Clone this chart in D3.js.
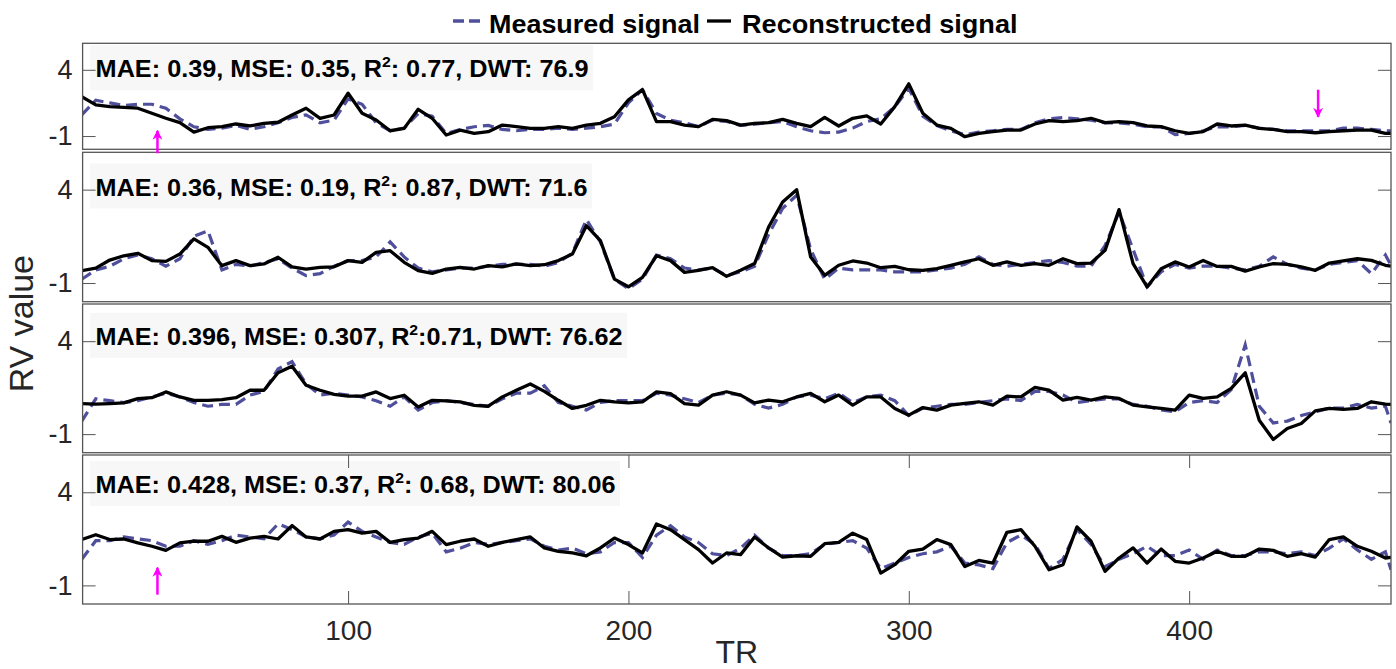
<!DOCTYPE html>
<html>
<head>
<meta charset="utf-8">
<script src="https://cdn.jsdelivr.net/npm/d3@7"></script>
<style>
  body { margin: 0; background: #fff; }
  text { font-family: "Liberation Sans", Arial, Helvetica, sans-serif; }
</style>
</head>
<body>
<svg id="chart" width="1396" height="669"></svg>
<script>
// sample positions (TR)
const tr = [5,10,15,20,25,30,35,40,45,50, 55,60,65,70,75,80,85,90,95,100,
  105,110,115,120,125,130,135,140,145,150, 155,160,165,170,175,180,185,190,195,200,
  205,210,215,220,225,230,235,240,245,250, 255,260,265,270,275,280,285,290,295,300,
  305,310,315,320,325,330,335,340,345,350, 355,360,365,370,375,380,385,390,395,400,
  405,410,415,420,425,430,435,440,445,450, 455,460,465,470,472]

// panel 1
const measured1 = [0.6,1.7,1.5,1.3,1.4,1.4,1.1,0.3,-0.3,-0.5,
  -0.4,-0.2,-0.5,-0.3,0.0,0.4,0.6,0.0,0.2,1.8,
  1.4,0.0,-0.6,-0.4,0.7,0.5,-0.8,-0.5,-0.3,-0.2,
  -0.5,-0.6,-0.5,-0.5,-0.4,-0.5,-0.4,-0.3,-0.1,1.5,
  2.5,0.7,0.2,0.0,-0.3,0.2,0.1,-0.2,-0.1,0.0,
  0.1,-0.3,-0.6,-0.75,-0.7,-0.4,0.1,0.3,1.2,2.6,
  0.5,-0.2,-0.6,-0.9,-0.7,-0.6,-0.5,-0.5,0.0,0.3,
  0.4,0.3,0.2,0.0,0.0,-0.1,-0.3,-0.3,-0.9,-0.8,
  -0.6,-0.3,-0.3,-0.2,-0.4,-0.5,-0.6,-0.6,-0.6,-0.6,
  -0.4,-0.4,-0.5,-0.6,-0.6]
const recon1 = [1.98,1.35,1.22,1.17,1.1,0.72,0.34,0.01,-0.7,-0.37,
  -0.29,-0.09,-0.24,-0.04,0.04,0.59,1.1,0.34,0.59,2.23,
  0.72,0.21,-0.6,-0.42,1.02,0.34,-0.92,-0.55,-0.8,-0.67,
  -0.17,-0.29,-0.42,-0.42,-0.29,-0.42,-0.17,-0.04,0.46,1.73,
  2.5,0.09,0.09,-0.17,-0.29,0.26,0.16,-0.17,-0.04,0.01,
  0.26,-0.04,-0.29,0.41,-0.24,0.34,0.52,-0.09,1.22,2.94,
  0.72,-0.17,-0.42,-1.05,-0.8,-0.67,-0.55,-0.55,-0.09,0.16,
  0.09,0.16,0.34,0.01,0.09,0.01,-0.24,-0.29,-0.6,-0.8,
  -0.67,-0.09,-0.24,-0.17,-0.42,-0.5,-0.67,-0.67,-0.75,-0.67,
  -0.6,-0.55,-0.55,-0.8,-0.8]

// panel 2
const measured2 = [-0.8,-0.3,-0.1,0.3,0.5,0.3,-0.1,0.3,1.5,1.8,
  -0.3,0.0,-0.1,0.1,0.3,-0.2,-0.6,-0.5,-0.1,0.2,
  0.2,0.4,1.2,0.4,-0.2,-0.4,-0.3,-0.2,-0.2,-0.1,
  0.0,0.0,0.0,-0.1,0.1,0.6,2.4,1.2,-0.8,-1.3,
  -0.8,0.5,0.3,-0.2,-0.3,-0.2,-0.6,-0.4,-0.1,1.6,
  3.0,3.7,0.8,-0.8,-0.2,-0.3,-0.3,-0.3,-0.4,-0.4,
  -0.4,-0.3,-0.2,0.0,0.4,0.0,-0.1,0.0,0.1,0.2,
  0.1,-0.1,-0.1,1.0,2.8,0.8,-1.2,-0.4,0.0,-0.2,
  -0.1,-0.1,-0.2,-0.3,-0.1,0.4,0.0,-0.2,-0.3,0.0,
  0.1,0.2,-0.5,0.5,-0.05]
const recon2 = [-0.34,-0.2,0.23,0.46,0.59,0.2,0.16,0.55,1.36,0.91,
  -0.07,0.2,-0.07,0.02,0.38,-0.13,-0.25,-0.16,-0.13,0.2,
  0.11,0.64,0.73,0.11,-0.34,-0.48,-0.25,-0.16,-0.25,-0.07,
  -0.13,0.02,-0.07,-0.02,0.2,0.55,2.07,1.27,-0.79,-1.2,
  -0.7,0.46,0.2,-0.43,-0.32,-0.18,-0.64,-0.32,0.04,2.0,
  3.34,4.0,0.39,-0.59,-0.05,0.18,0.07,-0.18,-0.11,-0.29,
  -0.32,-0.23,-0.05,0.13,0.3,-0.05,0.13,-0.05,0.04,-0.05,
  0.3,0.04,0.07,0.75,2.93,0.04,-1.21,-0.23,0.13,-0.14,
  0.21,-0.11,-0.11,-0.36,-0.14,0.04,0.0,-0.14,-0.32,0.07,
  0.18,0.3,0.21,-0.05,-0.1]

// panel 3
const measured3 = [-0.3,0.9,0.8,0.7,0.8,1.0,1.2,1.0,0.7,0.5,
  0.6,0.6,1.1,1.3,2.5,2.9,1.7,1.1,1.2,1.1,
  1.0,0.8,0.5,1.0,0.3,0.7,0.8,0.7,0.6,0.5,
  0.9,1.2,1.2,1.6,0.7,0.5,0.3,0.7,0.8,0.8,
  0.8,1.2,1.1,0.9,0.7,1.1,1.2,1.1,0.6,0.4,
  0.6,1.0,1.1,0.9,1.2,0.7,1.0,1.1,0.8,0.0,
  0.4,0.5,0.6,0.6,0.7,0.8,0.9,0.8,1.3,1.3,
  1.1,0.7,0.8,0.9,0.9,0.6,0.5,0.3,0.2,0.7,
  0.8,0.7,1.4,3.8,0.5,-0.4,-0.3,0.0,0.2,0.4,
  0.4,0.6,0.4,0.5,-0.4]
const recon3 = [0.64,0.61,0.64,0.68,0.91,0.96,1.27,1.0,0.82,0.82,
  0.86,0.96,1.36,1.36,2.3,2.65,1.63,1.36,1.14,1.04,
  1.04,1.27,0.91,1.09,0.46,0.82,0.79,0.73,0.55,0.5,
  1.0,1.36,1.7,1.3,0.82,0.38,0.55,0.82,0.73,0.68,
  0.73,1.27,1.18,0.64,0.56,1.1,1.28,1.1,0.68,0.83,
  0.74,1.0,1.19,0.74,1.1,0.56,1.0,1.0,0.38,0.02,
  0.43,0.29,0.56,0.65,0.74,0.56,1.04,1.0,1.51,1.37,
  0.83,0.97,0.83,1.0,0.92,0.56,0.47,0.38,0.29,1.1,
  0.92,1.0,1.46,2.3,-0.25,-1.29,-0.7,-0.43,0.25,0.38,
  0.33,0.38,0.74,0.61,0.6]

// panel 4
const measured4 = [0.4,1.4,1.4,1.6,1.5,1.4,1.1,1.1,1.4,1.2,
  1.4,1.7,1.6,1.5,2.3,2.0,1.6,1.5,1.7,2.4,
  1.9,1.6,1.3,1.2,1.6,1.8,0.8,1.0,1.3,1.2,
  1.3,1.4,1.5,1.1,0.9,1.0,0.7,0.8,1.3,1.3,
  0.5,1.7,2.2,1.6,1.3,0.7,0.6,1.0,1.7,1.0,
  0.6,0.6,0.7,1.2,1.3,1.4,1.0,-0.1,0.2,0.5,
  0.7,0.8,1.1,0.2,0.1,-0.1,1.3,1.7,1.2,-0.1,
  0.4,2.0,1.2,0.0,0.4,0.7,1.1,0.6,0.6,0.9,
  0.4,0.9,0.6,0.6,0.8,0.8,0.7,0.8,0.6,1.0,
  1.5,0.9,0.4,0.8,-0.16]
const recon4 = [1.46,1.72,1.46,1.49,1.28,1.1,0.88,1.28,1.37,1.37,
  1.63,1.31,1.54,1.63,1.49,2.21,1.6,1.49,1.9,1.99,
  1.81,1.9,1.31,1.46,1.54,1.9,1.19,1.37,1.49,1.1,
  1.31,1.46,1.6,1.01,0.83,0.74,0.59,1.01,1.54,1.19,
  0.74,2.3,1.99,1.46,0.92,0.2,0.74,0.65,1.6,1.01,
  0.52,0.59,0.56,1.24,1.31,1.8,1.46,-0.34,0.11,0.83,
  0.95,1.46,1.19,0.01,0.34,0.2,1.85,1.99,1.1,-0.16,
  0.11,2.14,1.37,-0.25,0.47,1.01,0.2,0.95,0.29,0.2,
  0.47,0.83,0.56,0.56,0.95,0.88,0.56,0.7,0.52,1.46,
  1.6,1.1,0.83,0.47,0.5]

// metrics shown in each panel
const mae = ['0.39', '0.36', '0.396', '0.428']
const mse = ['0.35', '0.19', '0.307', '0.37']
const r2 = ['0.77', '0.87', '0.71', '0.68']
const r2sep = [': ', ': ', ':', ': ']
const dwt = ['76.9', '71.6', '76.62', '80.06']

const xTicks = [100, 200, 300, 400]
const yTicks = [4, -1]
const legendLabels = ['Measured signal', 'Reconstructed signal']

// magenta arrows: panel index, TR, from value, to value (head at "to")
const arrows = [
  {panel: 0, tr: 32, from: -2.3, to: -0.6},
  {panel: 0, tr: 446, from: 2.5, to: 0.45},
  {panel: 3, tr: 32, from: -1.5, to: -0.05}
]

// ---- layout ----
const measuredColor = '#4f4f9c'
const axisColor = '#262626'
const left = 82.6, right = 1391
const panelY = [[43.3, 149.3], [152.3, 301.7], [304, 452.7], [455, 604]]
const boxBaseline = [34, 43.2, 40.8, 38]
const boxTextLen = [493, 492, 527, 520]

const svg = d3.select('#chart')

const x = d3.scaleLinear().domain([5.3, 472]).range([left, right])

const panels = [
  {m: measured1, r: recon1},
  {m: measured2, r: recon2},
  {m: measured3, r: recon3},
  {m: measured4, r: recon4}
]

const defs = svg.append('defs')
defs.append('marker')
  .attr('id', 'head')
  .attr('viewBox', '0 0 10 10')
  .attr('refX', 9).attr('refY', 5)
  .attr('markerWidth', 4).attr('markerHeight', 4)
  .attr('markerUnits', 'strokeWidth')
  .attr('orient', 'auto')
  .append('path')
  .attr('d', 'M0,0 L10,5 L0,10 L3,5 Z')
  .attr('fill', '#ff00ff')

panels.forEach(function(p, i) {
  const top = panelY[i][0], bottom = panelY[i][1]
  const y = d3.scaleLinear().domain([-2, 6]).range([bottom, top])
  p.y = y

  defs.append('clipPath').attr('id', 'clip' + i)
    .append('rect')
    .attr('x', left).attr('y', top)
    .attr('width', right - left).attr('height', bottom - top)

  const g = svg.append('g')

  g.append('rect')
    .attr('x', left).attr('y', top)
    .attr('width', right - left).attr('height', bottom - top)
    .attr('fill', '#fff')

  // metric box
  const base = top + boxBaseline[i]
  g.append('rect')
    .attr('x', left + 7.5).attr('y', base - 32)
    .attr('width', boxTextLen[i] + 10).attr('height', 45)
    .attr('fill', '#f7f7f7')
  const label = g.append('text')
    .attr('x', left + 13)
    .attr('y', base)
    .attr('font-size', 24)
    .attr('font-weight', 'bold')
    .attr('fill', '#000')
    .attr('textLength', boxTextLen[i])
    .attr('lengthAdjust', 'spacingAndGlyphs')
  label.append('tspan').text('MAE: ' + mae[i] + ', MSE: ' + mse[i] + ', R')
  label.append('tspan').attr('font-size', 15).attr('dy', -10).text('2')
  label.append('tspan').attr('dy', 10).text(r2sep[i] + r2[i] + ', DWT: ' + dwt[i])

  // lines
  const line = d3.line()
    .x(function(d, k) { return x(tr[k]) })
    .y(function(d) { return y(d) })

  const lines = g.append('g').attr('clip-path', 'url(#clip' + i + ')')
  lines.append('path')
    .datum(p.m)
    .attr('d', line)
    .attr('fill', 'none')
    .attr('stroke', measuredColor)
    .attr('stroke-width', 3.2)
    .attr('stroke-dasharray', '11,6')
  lines.append('path')
    .datum(p.r)
    .attr('d', line)
    .attr('fill', 'none')
    .attr('stroke', '#000')
    .attr('stroke-width', 3.3)
    .attr('stroke-linejoin', 'round')

  // y axes (inward ticks both sides)
  const ya = g.append('g')
    .attr('transform', 'translate(' + left + ',0)')
    .call(d3.axisLeft(y).tickValues(yTicks).tickSize(-13).tickPadding(10)
      .tickFormat(function(d) { return String(d) }))
  ya.select('.domain').remove()
  ya.selectAll('text').attr('font-size', 27).attr('fill', axisColor).attr('font-family', null)
  ya.selectAll('line').attr('stroke', '#555')

  const yr = g.append('g')
    .attr('transform', 'translate(' + right + ',0)')
    .call(d3.axisRight(y).tickValues(yTicks).tickSize(-13).tickFormat(''))
  yr.select('.domain').remove()
  yr.selectAll('line').attr('stroke', '#555')

  if (i === panels.length - 1) {
    const xb = g.append('g')
      .attr('transform', 'translate(0,' + bottom + ')')
      .call(d3.axisBottom(x).tickValues(xTicks).tickSize(-13).tickPadding(16))
    xb.select('.domain').remove()
    xb.selectAll('text').attr('font-size', 28).attr('fill', axisColor).attr('font-family', null)
    xb.selectAll('line').attr('stroke', '#555')

    const xt = g.append('g')
      .attr('transform', 'translate(0,' + top + ')')
      .call(d3.axisTop(x).tickValues(xTicks).tickSize(-13).tickFormat(''))
    xt.select('.domain').remove()
    xt.selectAll('line').attr('stroke', '#555')
  }

  // frame
  g.append('rect')
    .attr('x', left).attr('y', top)
    .attr('width', right - left).attr('height', bottom - top)
    .attr('fill', 'none')
    .attr('stroke', '#555')
    .attr('stroke-width', 1.3)
})

// arrows
svg.append('g').selectAll('line')
  .data(arrows)
  .enter()
  .append('line')
  .attr('x1', function(d) { return x(d.tr) })
  .attr('x2', function(d) { return x(d.tr) })
  .attr('y1', function(d) { return panels[d.panel].y(d.from) })
  .attr('y2', function(d) { return panels[d.panel].y(d.to) })
  .attr('stroke', '#ff00ff')
  .attr('stroke-width', 2.5)
  .attr('marker-end', 'url(#head)')

// axis labels
svg.append('text')
  .attr('x', (left + right) / 2)
  .attr('y', 663)
  .attr('text-anchor', 'middle')
  .attr('font-size', 32)
  .attr('fill', axisColor)
  .text('TR')

svg.append('text')
  .attr('transform', 'translate(33,' + ((panelY[0][0] + panelY[3][1]) / 2) + ') rotate(-90)')
  .attr('text-anchor', 'middle')
  .attr('font-size', 34)
  .attr('fill', axisColor)
  .text('RV value')

// legend
const legend = svg.append('g')
const legendItems = [
  {x1: 453, x2: 482, tx: 489, len: 211, color: measuredColor, dash: '11,5'},
  {x1: 707, x2: 731, tx: 742, len: 275.5, color: '#000', dash: null}
]
legendItems.forEach(function(d, k) {
  legend.append('line')
    .attr('x1', d.x1).attr('x2', d.x2)
    .attr('y1', 21).attr('y2', 21)
    .attr('stroke', d.color)
    .attr('stroke-width', 3.3)
    .attr('stroke-dasharray', d.dash)
  legend.append('text')
    .attr('x', d.tx).attr('y', 32.7)
    .attr('font-size', 25)
    .attr('font-weight', 'bold')
    .attr('textLength', d.len)
    .attr('lengthAdjust', 'spacingAndGlyphs')
    .text(legendLabels[k])
})
</script>
</body>
</html>
